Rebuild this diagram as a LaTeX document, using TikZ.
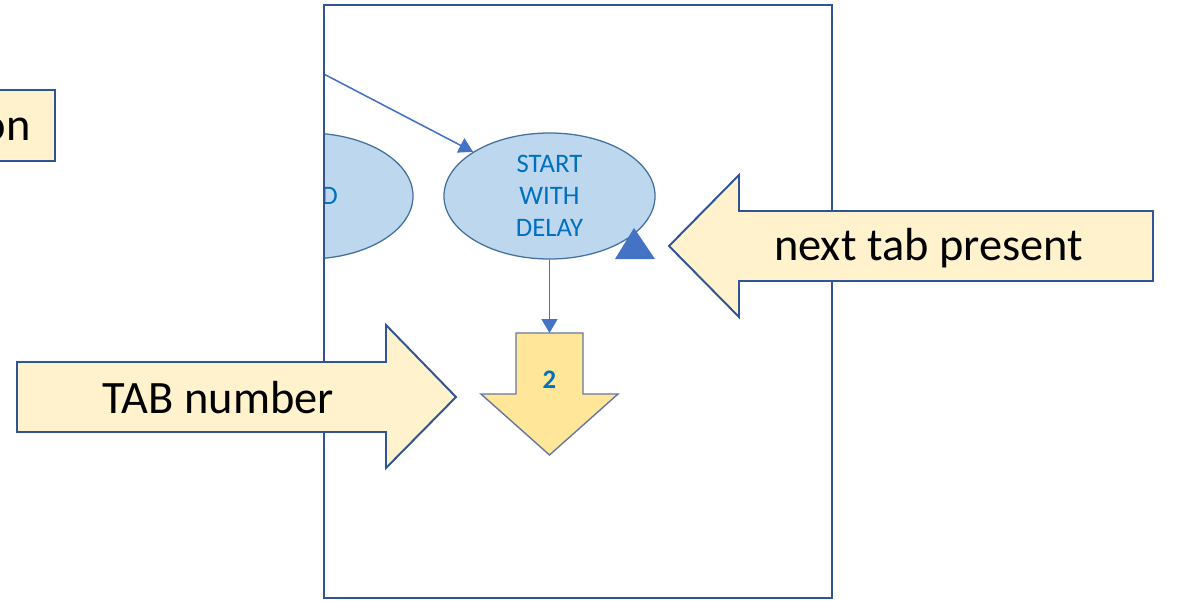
\documentclass[tikz,border=0pt]{standalone}
\usepackage{fontspec}
\setmainfont{Carlito}
\usetikzlibrary{shapes.geometric,arrows.meta}

\definecolor{notefill}{HTML}{FFF2CC}
\definecolor{notedraw}{HTML}{2F5597}
\definecolor{statefill}{HTML}{BDD7EE}
\definecolor{statedraw}{HTML}{41719C}
\definecolor{stateblue}{HTML}{0070C0}
\definecolor{linkblue}{HTML}{4472C4}
\definecolor{tabfill}{HTML}{FFE699}
\definecolor{tabdraw}{HTML}{6478A0}

\begin{document}
\begin{tikzpicture}[x=0.025cm,y=-0.025cm,
	note/.style={draw=notedraw,fill=notefill,line width=1.4pt,line join=miter},
	state/.style={ellipse,draw=statedraw,fill=statefill,line width=0.9pt,
		minimum width=5.275cm,minimum height=3.15cm,inner sep=0pt,
		text=stateblue,align=center,font=\fontsize{19}{22.7}\selectfont},
	link/.style={draw=linkblue,line width=1.1pt,-{Triangle[length=0.35cm,width=0.4cm]}},
	tabshape/.style={draw=tabdraw,fill=tabfill,line width=1pt,line join=miter},
	bigtext/.style={anchor=base,inner sep=0pt,font=\fontsize{33}{40}\selectfont}]
	
	\useasboundingbox (0,0) rectangle (1177,600);
	\clip (0,0) rectangle (1177,600);
	
	\node[state] (start) at (549.5,196) {START\\WITH\\DELAY};
	\coordinate (src) at (300,61.6);
	
	\begin{scope}
		\clip (324,5) rectangle (832,598);
		\node[state] (prev) at (307.5,196) {};
		\node[anchor=base east,inner sep=0pt,text=stateblue,
			font=\fontsize{19}{22.7}\selectfont] (prevtxt) at (338,204) {D};
		\path[link] (src) -- (start.150);
	\end{scope}
	
	\fill[linkblue] (615,259) -- (655,259) -- (634,228) -- cycle;
	
	\draw[tabshape] (516,333) -- (583,333) -- (583,394) -- (618,394)
		-- (549.5,455) -- (481,394) -- (516,394) -- cycle;
	\coordinate (tabtop) at (549.5,333);
	\node[anchor=base,inner sep=0pt,text=stateblue,
		font=\fontsize{19}{22}\selectfont\bfseries] (tabno) at (549.5,388) {2};
	\path[link] (start) -- (tabtop);
	
	% frame
	\draw[notedraw,line width=1.4pt] (324,5) rectangle (832,598);
	
	% callouts
	\draw[note] (-20,90) rectangle (55,161);
	\node[bigtext,anchor=base east] (ontxt) at (31,140) {on};
	
	\draw[note] (17,362) -- (386,362) -- (386,325) -- (456,397)
		-- (386,468) -- (386,432) -- (17,432) -- cycle;
	\node[bigtext] (tabtxt) at (218.5,413) {TAB number};
	
	\draw[note] (1153,211) -- (739,211) -- (739,175) -- (669,246)
		-- (739,317) -- (739,281) -- (1153,281) -- cycle;
	\node[bigtext] (nexttxt) at (928.5,260) {next tab present};
	
\end{tikzpicture}
\end{document}
